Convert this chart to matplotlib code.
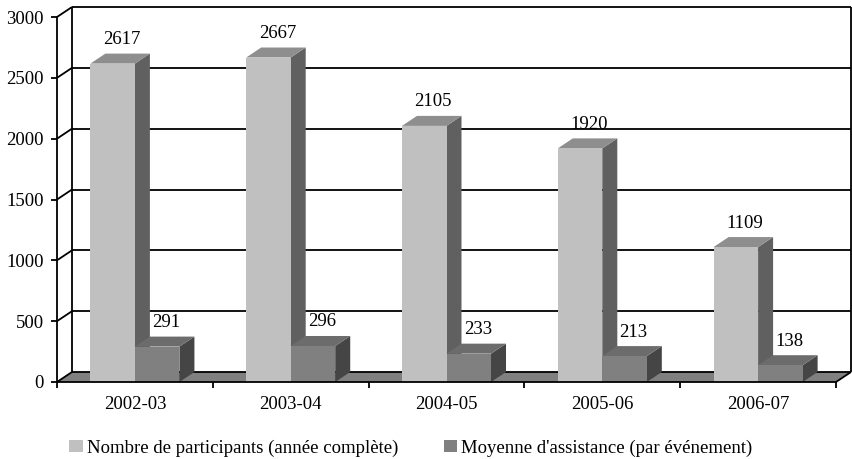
import matplotlib
matplotlib.use("Agg")
import matplotlib.pyplot as plt
from matplotlib.patches import Polygon, Patch

# Data
seasons = ["2002-03", "2003-04", "2004-05", "2005-06", "2006-07"]
participants = [2617, 2667, 2105, 1920, 1109]
avg_attendance = [291, 296, 233, 213, 138]
series_names = ["Nombre de participants (année complète)",
                "Moyenne d'assistance (par événement)"]
y_ticks = [0, 500, 1000, 1500, 2000, 2500, 3000]

# Styling
W, H, DPI = 852, 459, 100
FONT = "Liberation Serif"
FS = 13.5
DEPTH_PX = (15, 10)          # oblique depth of the 3-D box, in pixels
GAP = 1.5                    # gap width between clusters (fraction of a bar)
light = {"front": "#c0c0c0", "top": "#8e8e8e", "side": "#606060"}
dark = {"front": "#808080", "top": "#6c6c6c", "side": "#454545"}
floor_color = "#808080"

plt.rcParams["font.family"] = [FONT, "DejaVu Serif"]
plt.rcParams["font.size"] = FS

fig = plt.figure(figsize=(W / DPI, H / DPI), dpi=DPI)
ax = fig.add_axes([57 / W, 77 / H, 779 / W, 365 / H])
n = len(seasons)
ymax = y_ticks[-1]
ax.set_xlim(0, n)
ax.set_ylim(0, ymax)

# pixel depth converted to data units
p0 = ax.transData.transform((0, 0))
p1 = ax.transData.transform((1, 1))
dx = DEPTH_PX[0] / (p1[0] - p0[0])
dy = DEPTH_PX[1] / (p1[1] - p0[1])

line_kw = dict(color="black", lw=1.3, clip_on=False, solid_capstyle="butt")

# floor
ax.add_patch(Polygon([(0, 0), (n, 0), (n + dx, dy), (dx, dy)],
                     closed=True, facecolor=floor_color, edgecolor="none",
                     clip_on=False, zorder=1))

# back wall with gridlines
for v in y_ticks:
    ax.plot([dx, n + dx], [v + dy, v + dy], zorder=2, **line_kw)
    ax.plot([0, dx], [v, v + dy], zorder=2, **line_kw)
ax.plot([dx, dx], [dy, ymax + dy], zorder=2, **line_kw)
ax.plot([n + dx, n + dx], [dy, ymax + dy], zorder=2, **line_kw)
ax.plot([n, n + dx], [0, dy], zorder=2, **line_kw)


def draw_box(x0, x1, v, colors, z):
    side = [(x1, 0), (x1 + dx, dy), (x1 + dx, v + dy), (x1, v)]
    top = [(x0, v), (x1, v), (x1 + dx, v + dy), (x0 + dx, v + dy)]
    front = [(x0, 0), (x1, 0), (x1, v), (x0, v)]
    for poly, key in ((side, "side"), (top, "top"), (front, "front")):
        ax.add_patch(Polygon(poly, closed=True, facecolor=colors[key],
                             edgecolor="none", clip_on=False, zorder=z))


bw = 1 / (2 + GAP)
for i in range(n):
    c = i + 0.5
    for j, (vals, colors) in enumerate(((participants, light),
                                        (avg_attendance, dark))):
        v = vals[i]
        x0 = c - bw + j * bw
        x1 = x0 + bw
        draw_box(x0, x1, v, colors, 3 + j)
        ax.annotate(f"{v}", xy=((x0 + x1) / 2 + dx * 0.6, v + dy),
                    xytext=(0, 4), textcoords="offset points",
                    ha="center", va="bottom", fontsize=FS, zorder=10,
                    annotation_clip=False)

# axes: front y-axis and x-axis
for s in ("top", "right"):
    ax.spines[s].set_visible(False)
for s in ("left", "bottom"):
    ax.spines[s].set_linewidth(1.3)
    ax.spines[s].set_zorder(6)
ax.set_yticks(y_ticks)
ax.set_yticklabels([str(v) for v in y_ticks])
ax.set_xticks(range(n + 1))
ax.set_xticklabels([])
ax.set_xticks([i + 0.5 for i in range(n)], minor=True)
ax.set_xticklabels(seasons, minor=True)
ax.tick_params(axis="y", direction="out", length=4.5, width=1.3, pad=5,
               labelsize=FS)
ax.tick_params(axis="x", which="major", direction="out", length=4.5,
               width=1.3)
ax.tick_params(axis="x", which="minor", length=0, pad=10, labelsize=FS)
ax.patch.set_visible(False)

# legend
handles = [Patch(facecolor=light["front"], edgecolor="none"),
           Patch(facecolor=dark["front"], edgecolor="none")]
fig.legend(handles, series_names, loc="center", ncol=2,
           bbox_to_anchor=(411 / W, 1 - 448 / H), frameon=False,
           fontsize=FS, handlelength=0.7, handleheight=0.55,
           handletextpad=0.25, columnspacing=2.4, borderaxespad=0)

fig.savefig("out.png", dpi=DPI)
